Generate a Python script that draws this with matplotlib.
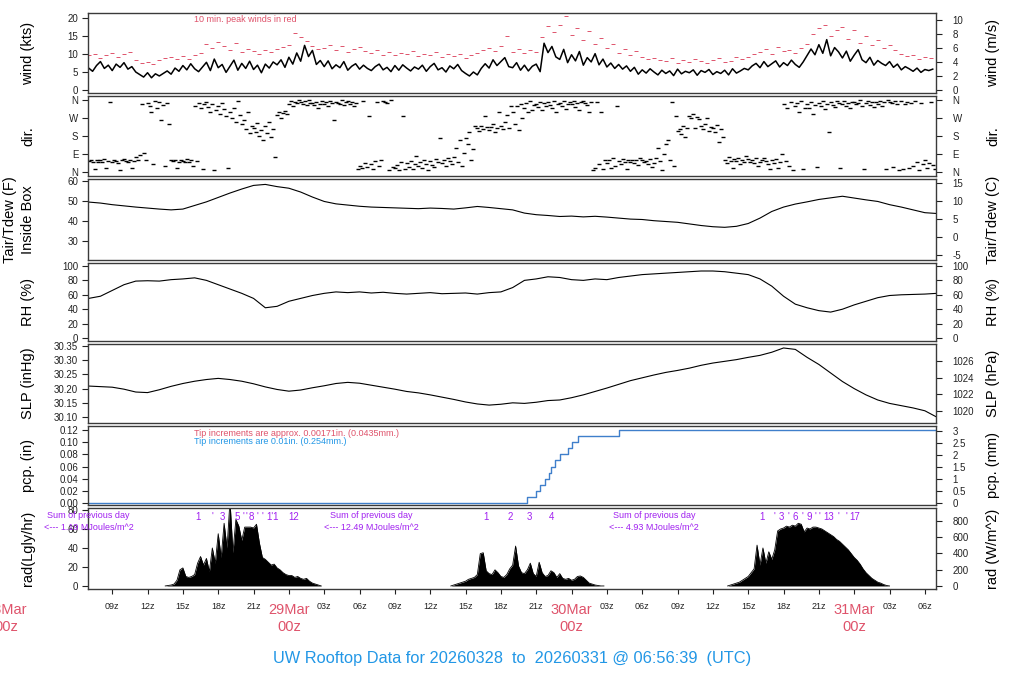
import numpy as np
import matplotlib
matplotlib.use("Agg")
import matplotlib.pyplot as plt
from matplotlib import transforms

plt.rcParams['font.family'] = ['Liberation Sans', 'DejaVu Sans']
plt.rcParams['axes.unicode_minus'] = False

# time axis: hours since 28Mar 00z
T_START = 6 + 56 / 60 + 39 / 3600
T_END = T_START + 72

RED = '#DF536B'
BLUE = '#2297E6'
PURPLE = '#A020F0'
LINEBLUE = '#3F7FCB'

# mean wind (kts), 20-minute samples starting 28Mar 07z
wind_kts = [
    6.1, 5.2, 6.8, 7.9, 6.0, 6.9, 5.4, 7.2, 6.3, 7.6, 5.8, 6.5,
    5.0, 4.3, 3.6, 4.8, 3.4, 4.5, 3.9, 4.6, 5.3, 4.4, 6.1, 5.2,
    6.8, 5.6, 7.3, 5.9, 5.1, 6.4, 7.7, 5.4, 8.6, 6.2, 7.1, 4.9,
    6.6, 8.3, 5.5, 7.4, 6.0, 8.0, 5.7, 6.9, 4.8, 7.2, 6.1, 7.8,
    7.0, 8.4, 6.3, 9.1, 7.2, 10.3, 8.0, 12.4, 9.3, 11.0, 7.1, 8.2,
    6.5, 8.1, 5.9, 7.0, 6.2, 7.9, 5.5, 6.6, 7.3, 5.8, 6.9, 6.0,
    5.4, 6.5, 7.2, 5.6, 6.3, 5.1, 6.8, 5.5, 7.0, 6.1, 5.3, 6.4,
    5.8, 6.9, 5.2, 6.5, 7.4, 5.6, 6.2, 5.0, 6.7, 5.9, 7.1, 5.4,
    4.6, 3.9, 5.0, 4.2, 6.0, 7.3, 6.1, 8.4, 6.8, 7.9, 9.0, 6.5,
    6.2, 7.6, 5.5, 6.9, 5.3, 6.6, 7.2, 5.1, 13.0, 10.4, 12.1, 9.2,
    8.5, 11.3, 7.6, 9.8, 8.1, 10.7, 6.9, 9.0, 7.8, 10.1, 7.0, 8.6,
    6.4, 7.5, 6.0, 7.1, 5.8, 6.7, 5.2, 6.3, 4.4, 5.6, 4.7, 5.9,
    5.0, 4.2, 5.5, 4.6, 5.3, 4.0, 5.8, 4.5, 5.2, 4.8, 5.6, 4.1,
    5.4, 4.9, 5.7, 4.3, 5.1, 4.6, 5.5, 4.2, 5.9, 4.7, 5.3, 6.0,
    5.6, 6.7, 7.4, 6.2, 7.9, 6.5, 7.3, 8.1, 6.4, 7.6, 6.8, 8.3,
    7.1, 6.3, 7.8, 9.6, 11.4, 9.8, 12.6, 10.2, 14.0, 9.5, 11.8, 10.6,
    8.9, 10.8, 8.0, 9.7, 11.2, 8.4, 7.6, 9.1, 6.9, 8.2, 7.4, 6.8,
    7.9, 6.3, 7.2, 5.6, 6.5, 5.9, 5.2, 6.1, 4.9, 5.7, 5.4, 5.8,
]

# 10 min. peak winds (kts), 30-minute samples starting 28Mar 07z
wind_peak_kts = [
    9.6, 10.1, 9.0, 9.8, 10.4, 9.3, 9.9, 10.6,
    8.4, 7.6, 7.9, 7.2, 8.3, 8.8, 9.1, 8.5,
    9.4, 8.7, 9.7, 10.2, 12.8, 11.6, 13.4, 12.1,
    11.2, 13.0, 10.5, 11.4, 10.8, 10.1, 11.0, 10.6,
    11.3, 11.9, 12.6, 15.8, 14.6, 13.7, 12.3, 11.5,
    11.8, 12.5, 11.0, 12.2, 10.7, 11.4, 12.0, 10.9,
    10.3, 11.1, 9.8, 10.6, 9.6, 10.2, 9.9, 10.8,
    9.4, 10.0, 9.7, 10.5, 9.2, 10.1, 9.5, 9.9,
    8.9, 9.6, 10.4, 11.0, 11.7, 10.8, 12.3, 15.0,
    10.6, 11.4, 10.2, 11.1, 10.7, 14.6, 17.8, 16.0,
    18.1, 20.5, 15.4, 17.2, 13.8, 16.3, 12.9, 14.5,
    11.6, 12.8, 10.4, 11.3, 9.6, 10.8, 9.2, 8.7,
    9.0, 8.4, 8.1, 8.9, 7.6, 8.3, 7.8, 8.6,
    8.0, 7.5, 8.4, 8.8, 7.9, 8.2, 9.1, 8.5,
    9.3, 9.9, 10.6, 11.5, 10.1, 12.0, 10.8, 11.2,
    10.4, 11.7, 12.9, 15.6, 17.3, 18.2, 15.1, 16.8,
    17.5, 14.3, 16.6, 13.2, 15.0, 12.4, 13.9, 11.8,
    12.6, 11.1, 10.0, 9.4, 9.8, 8.6, 9.1, 8.8,
]

# wind direction (deg), six readings per hour starting 28Mar 07z
wind_dir = [
    [55, 60, 48, 15, 62, 52], [58, 50, 65, 20, 55, 350], [52, 60, 57, 45, 10, 58],
    [63, 55, 50, 60, 18, 54], [75, 62, 85, 340, 95, 58], [345, 330, 300, 40, 355, 320],
    [350, 260, 335, 28, 345, 240], [60, 55, 62, 20, 50, 58], [57, 52, 65, 48, 60, 30],
    [330, 55, 345, 320, 15, 340], [350, 325, 300, 340, 10, 310], [330, 290, 345, 315, 280, 20],
    [300, 270, 320, 250, 355, 285], [240, 260, 215, 300, 195, 230], [220, 200, 245, 180, 210, 160],
    [230, 195, 250, 175, 215, 75], [285, 300, 270, 295, 305, 290], [340, 355, 330, 350, 345, 360],
    [350, 340, 355, 335, 358, 345], [345, 335, 352, 320, 340, 356], [338, 350, 330, 355, 345, 260],
    [352, 345, 340, 358, 336, 348], [355, 340, 350, 330, 345, 15], [30, 20, 355, 45, 25, 280],
    [40, 15, 55, 350, 30, 60], [355, 350, 345, 10, 358, 25], [20, 35, 10, 50, 280, 15],
    [45, 25, 55, 15, 38, 80], [30, 50, 20, 60, 42, 10], [55, 35, 25, 65, 48, 170],
    [45, 60, 30, 70, 55, 40], [75, 120, 50, 160, 30, 95], [170, 140, 200, 60, 115, 230],
    [220, 205, 230, 215, 280, 225], [210, 225, 240, 200, 218, 300], [230, 215, 250, 285, 220, 330],
    [300, 240, 330, 210, 340, 270], [320, 345, 300, 355, 310, 335], [340, 325, 350, 310, 345, 330],
    [350, 335, 320, 355, 300, 340], [345, 330, 355, 315, 340, 350], [340, 355, 325, 345, 310, 350],
    [355, 345, 335, 300, 350, 10], [20, 350, 40, 300, 15, 60], [45, 60, 20, 70, 30, 330],
    [55, 40, 65, 50, 15, 60], [50, 62, 45, 58, 35, 68], [60, 48, 55, 40, 65, 25],
    [45, 70, 120, 55, 10, 90], [140, 160, 60, 350, 30, 280], [205, 215, 190, 230, 175, 220],
    [280, 270, 290, 220, 275, 265], [230, 215, 240, 270, 205, 225], [220, 200, 235, 150, 215, 175],
    [60, 45, 75, 55, 20, 65], [55, 70, 40, 62, 50, 80], [65, 50, 58, 45, 72, 30],
    [48, 60, 70, 55, 40, 15], [58, 45, 65, 20, 52, 90], [340, 55, 320, 30, 350, 10],
    [330, 345, 300, 355, 15, 320], [340, 320, 350, 290, 335, 25], [345, 330, 355, 315, 340, 200],
    [350, 335, 325, 355, 345, 20], [340, 355, 330, 345, 320, 350], [352, 338, 345, 358, 330, 15],
    [345, 355, 335, 350, 325, 350], [340, 355, 330, 348, 15, 358], [350, 345, 25, 355, 340, 10],
    [355, 15, 340, 350, 20, 345], [30, 355, 50, 10, 345, 40], [60, 20, 45, 350, 35, 15],
]

# hourly values starting 28Mar 07z
temp_f = [
    49.5, 49.0, 48.2, 47.6, 47.0, 46.5, 46.0, 45.6, 46.0, 47.8, 49.6, 51.8, 54.0, 56.0,
    57.8, 58.3, 57.2, 56.4, 54.5, 52.0, 49.8, 48.6, 48.0, 47.4, 47.0, 46.8, 46.6, 46.4,
    46.2, 46.5, 46.3, 46.0, 46.6, 47.3, 46.8, 46.2, 45.6, 44.0, 43.2, 42.8, 42.3, 42.5,
    42.1, 42.4, 42.0, 41.5, 41.0, 40.8, 40.2, 39.8, 39.4, 38.6, 37.8, 37.2, 36.9, 37.4,
    38.8, 41.5, 44.8, 47.0, 48.5, 49.6, 50.8, 51.6, 52.4, 51.5, 50.6, 49.8, 48.2, 47.0,
    45.6, 44.2, 43.8,
]
rh_pct = [
    55, 58, 66, 74, 79, 79.5, 79, 81, 82, 83.5, 80, 74, 68, 62, 55, 42, 44, 51, 55, 59,
    62, 64, 63, 64, 62.5, 63.5, 62, 61, 62, 63, 61.5, 62, 62.5, 61, 63, 64, 70, 80, 82, 85,
    84, 81, 80, 82, 81, 84, 86, 88, 89, 90, 91, 92, 93, 93, 92, 90, 88, 82, 72, 58,
    47, 42, 38, 36, 40, 46, 51, 56, 59, 60, 60.5, 61, 62,
]
slp_inhg = [
    30.209, 30.207, 30.205, 30.198, 30.188, 30.186, 30.196, 30.208, 30.218, 30.226,
    30.232, 30.236, 30.232, 30.226, 30.217, 30.206, 30.197, 30.191, 30.195, 30.203,
    30.210, 30.218, 30.222, 30.219, 30.212, 30.205, 30.198, 30.190, 30.185, 30.178,
    30.170, 30.162, 30.153, 30.146, 30.142, 30.145, 30.150, 30.148, 30.152, 30.158,
    30.160, 30.168, 30.178, 30.190, 30.202, 30.215, 30.228, 30.238, 30.248, 30.257,
    30.264, 30.272, 30.282, 30.290, 30.296, 30.302, 30.310, 30.317, 30.328, 30.343,
    30.338, 30.310, 30.285, 30.255, 30.225, 30.200, 30.178, 30.160, 30.148, 30.140,
    30.132, 30.122, 30.100,
]

# rain gauge tips (hours since 28Mar 00z) and accumulated precipitation (in)
tip_hours = [44.21, 44.97, 45.31, 45.74, 46.08, 46.25, 46.59, 47.01, 47.69, 48.03, 48.54, 52.02]
tip_inches = [0.01, 0.02, 0.03, 0.04, 0.05, 0.06, 0.07, 0.08, 0.09, 0.10, 0.11, 0.12]

# solar radiation (Lgly/hr), 15-minute samples for each daylight period
rad_day1_start = 13.5
rad_day1 = [
    0, 0.5, 1, 2, 6, 17, 19, 10, 9, 10, 12, 24, 31, 22, 29, 15, 40, 24, 55, 30,
    66, 40, 90, 35, 70, 63, 48, 62, 62, 62, 61, 65, 45, 30, 28, 25, 22, 23, 19, 17,
    14, 12, 11, 11, 9, 10, 8, 7, 8, 5, 3, 2, 1, 0,
]
rad_day2_start = 37.75
rad_day2 = [
    0, 1, 2, 3, 4, 5, 7, 8, 9, 12, 34, 35, 16, 13, 12, 17, 14, 10, 9, 12,
    18, 22, 42, 21, 14, 13, 17, 24, 13, 10, 25, 14, 10, 11, 16, 14, 9, 13, 8, 7,
    8, 6, 7, 10, 10.5, 9, 6, 3, 2, 1, 0.5, 0, 0,
]
rad_day3_start = 61.25
rad_day3 = [
    0, 1, 2, 3, 4, 6, 8, 10, 14, 18, 43, 22, 40, 24, 36, 28, 38, 58, 60, 61,
    63, 62, 64, 63, 66, 65, 57, 61, 60, 62, 62, 61, 60, 58, 56, 54, 52, 49, 47, 44,
    41, 38, 34, 30, 27, 23, 18, 14, 11, 8, 6, 4, 3, 1.5, 0.5, 0,
]

# numbered marks along the top of the radiation panel
rad_marks = [
    ("1", 16.28), ("'", 17.47), ("3", 18.32), ("5", 19.59), ("'", 20.10), ("'", 20.36),
    ("8", 20.78), ("'", 21.29), ("'", 21.71), ("1'1", 22.65), ("12", 24.43),
    ("1", 40.73), ("2", 42.77), ("3", 44.38), ("4", 46.33),
    ("1", 64.16), ("'", 65.18), ("3", 65.83), ("'", 66.45), ("6", 66.96), ("'", 67.63),
    ("9", 68.15), ("'", 68.74), ("'", 69.00), ("13", 69.83), ("'", 70.67), ("'", 71.37),
    ("17", 72.05),
]
daily_sums = [(7.0, "1.19"), (31.0, "12.49"), (55.0, "4.93")]
day_names = [(0, "28Mar"), (24, "29Mar"), (48, "30Mar"), (72, "31Mar")]

W, H = 1024, 700
fig = plt.figure(figsize=(W / 100, H / 100), dpi=100)


def panel(top, bottom, ylim):
    ax = fig.add_axes([88 / W, 1 - bottom / H, (936 - 88) / W, (bottom - top) / H])
    ax.set_xlim(T_START, T_END)
    ax.set_ylim(*ylim)
    for sp in ax.spines.values():
        sp.set_linewidth(1.0)
        sp.set_color('#3a3a3a')
    ax.tick_params(axis='y', direction='out', length=4, width=0.8, pad=3,
                   labelsize=7, colors='#222222')
    ax.set_xticks([])
    return ax


def right_axis(ax, fwd, inv, ticks, labels=None):
    sec = ax.secondary_yaxis('right', functions=(fwd, inv))
    sec.set_yticks(ticks)
    if labels is not None:
        sec.set_yticklabels(labels)
    sec.tick_params(direction='out', length=4, width=0.8, pad=8, labelsize=7, colors='#222222')
    sec.spines['right'].set_visible(False)
    return sec


def left_label(text, top, bottom, x=28):
    fig.text(x / W, 1 - (top + bottom) / 2 / H, text, rotation=90,
             ha='center', va='center', fontsize=10.5)


def right_label(text, top, bottom):
    fig.text(993 / W, 1 - (top + bottom) / 2 / H, text, rotation=90,
             ha='center', va='center', fontsize=10.5)


# wind speed
ax = panel(13, 93, (-0.83, 21.4))
t = 7 + np.arange(len(wind_kts)) / 3
ax.plot(t, wind_kts, color='black', lw=1.1)
tp = 7 + np.arange(len(wind_peak_kts)) / 2
ax.plot(tp, wind_peak_kts, ls='none', marker='_', ms=3.5, mew=0.7, color=RED)
ax.set_yticks([0, 5, 10, 15, 20])
ax.text(106 / 848, 1 - 6 / 80, "10 min. peak winds in red", transform=ax.transAxes,
        color=RED, fontsize=6.5, va='center')
right_axis(ax, lambda k: k * 0.514444, lambda m: m / 0.514444, [0, 2, 4, 6, 8, 10])
left_label("wind (kts)", 13, 93)
right_label("wind (m/s)", 13, 93)

# wind direction
ax = panel(96, 176, (-19.7, 379.7))
dt, dd = [], []
for i, row in enumerate(wind_dir):
    for k, d in enumerate(row):
        dt.append(7 + i + k / 6)
        dd.append(d)
ax.plot(dt, dd, ls='none', marker='_', ms=3.5, mew=1.0, color='black')
ax.set_yticks([0, 90, 180, 270, 360])
ax.set_yticklabels(['N', 'E', 'S', 'W', 'N'])
right_axis(ax, lambda v: v, lambda v: v, [0, 90, 180, 270, 360], ['N', 'E', 'S', 'W', 'N'])
left_label("dir.", 96, 176)
right_label("dir.", 96, 176)

# temperature
ax = panel(179, 260, (20.6, 61.0))
th = 7 + np.arange(len(temp_f))
ax.plot(th, temp_f, color='black', lw=0.8)
ax.set_yticks([30, 40, 50, 60])
right_axis(ax, lambda f: (f - 32) * 5 / 9, lambda c: c * 9 / 5 + 32, [-5, 0, 5, 10, 15])
left_label("Tair/Tdew (F)", 179, 260, x=10)
left_label("Inside Box", 179, 260)
right_label("Tair/Tdew (C)", 179, 260)

# relative humidity
ax = panel(263, 341, (-4.1, 104.1))
ax.plot(7 + np.arange(len(rh_pct)), rh_pct, color='black', lw=0.8)
ax.set_yticks([0, 20, 40, 60, 80, 100])
right_axis(ax, lambda v: v, lambda v: v, [0, 20, 40, 60, 80, 100])
left_label("RH (%)", 263, 341)
right_label("RH (%)", 263, 341)

# sea level pressure
ax = panel(344, 423, (30.079, 30.357))
ax.plot(7 + np.arange(len(slp_inhg)), slp_inhg, color='black', lw=0.8)
ax.set_yticks([30.10, 30.15, 30.20, 30.25, 30.30, 30.35])
ax.set_yticklabels(['30.10', '30.15', '30.20', '30.25', '30.30', '30.35'])
right_axis(ax, lambda v: v * 33.8639, lambda h: h / 33.8639, [1020, 1022, 1024, 1026])
left_label("SLP (inHg)", 344, 423)
right_label("SLP (hPa)", 344, 423)

# precipitation
ax = panel(426, 505, (-0.0032, 0.1265))
px = [T_START] + tip_hours + [T_END]
py = [0.0] + tip_inches + [tip_inches[-1]]
ax.plot(px, py, drawstyle='steps-post', color=LINEBLUE, lw=1.0)
ax.set_yticks([0, 0.02, 0.04, 0.06, 0.08, 0.10, 0.12])
ax.set_yticklabels(['0.00', '0.02', '0.04', '0.06', '0.08', '0.10', '0.12'])
ax.text(106 / 848, 1 - 7 / 79, "Tip increments are approx. 0.00171in. (0.0435mm.)",
        transform=ax.transAxes, color=RED, fontsize=6.5, va='center')
ax.text(106 / 848, 1 - 15 / 79, "Tip increments are 0.01in. (0.254mm.)",
        transform=ax.transAxes, color=BLUE, fontsize=6.5, va='center')
right_axis(ax, lambda v: v * 25.4, lambda m: m / 25.4, [0, 0.5, 1, 1.5, 2, 2.5, 3],
           ['0', '0.5', '1', '1.5', '2', '2.5', '3'])
left_label("pcp. (in)", 426, 505)
right_label("pcp. (mm)", 426, 505)

# solar radiation
ax = panel(508, 589, (-3.2, 82.1))
for start, vals in [(rad_day1_start, rad_day1), (rad_day2_start, rad_day2),
                    (rad_day3_start, rad_day3)]:
    rt = start + 0.25 * np.arange(len(vals))
    ax.fill_between(rt, 0, vals, color='black', lw=0)
    ax.plot(rt, vals, color='black', lw=0.6)
ax.set_yticks([0, 20, 40, 60, 80])
for lab, th_ in rad_marks:
    ax.text(th_, 1 - 9 / 81, lab, transform=ax.get_xaxis_transform(), color=PURPLE,
            fontsize=7, ha='center', va='center', clip_on=False)
for th_, val in daily_sums:
    ax.text(th_, 1 - 7 / 81, "Sum of previous day", transform=ax.get_xaxis_transform(),
            color=PURPLE, fontsize=6.5, ha='center', va='center', clip_on=False)
    ax.text(th_, 1 - 19 / 81, "<--- %s MJoules/m^2" % val, transform=ax.get_xaxis_transform(),
            color=PURPLE, fontsize=6.5, ha='center', va='center', clip_on=False)
right_axis(ax, lambda v: v * 11.63, lambda w: w / 11.63, [0, 200, 400, 600, 800])
left_label("rad(Lgly/hr)", 508, 589)
right_label("rad (W/m^2)", 508, 589)

# time axis on the bottom panel
hours3 = np.arange(9, 79, 3)
ax.set_xticks(hours3)
ax.set_xticklabels(['' if h % 24 == 0 else '%02dz' % (h % 24) for h in hours3])
ax.tick_params(axis='x', direction='out', length=3.5, width=0.8, pad=6,
               labelsize=6.5, colors='#222222')
ax.set_xticks(np.arange(12, 79, 12), minor=True)
ax.tick_params(axis='x', which='minor', direction='out', length=7, width=0.8)
tr = transforms.blended_transform_factory(ax.transData, fig.transFigure)
for dh, name in day_names:
    ax.text(dh, 1 - 610 / H, name, transform=tr, color=RED, fontsize=10.5,
            ha='center', va='center', clip_on=False)
    ax.text(dh, 1 - 627 / H, "00z", transform=tr, color=RED, fontsize=10.5,
            ha='center', va='center', clip_on=False)

fig.text(512 / W, 1 - 659 / H,
         "UW Rooftop Data for 20260328  to  20260331 @ 06:56:39  (UTC)",
         color=BLUE, fontsize=11.8, ha='center', va='center')

fig.savefig("out.png", dpi=100)
